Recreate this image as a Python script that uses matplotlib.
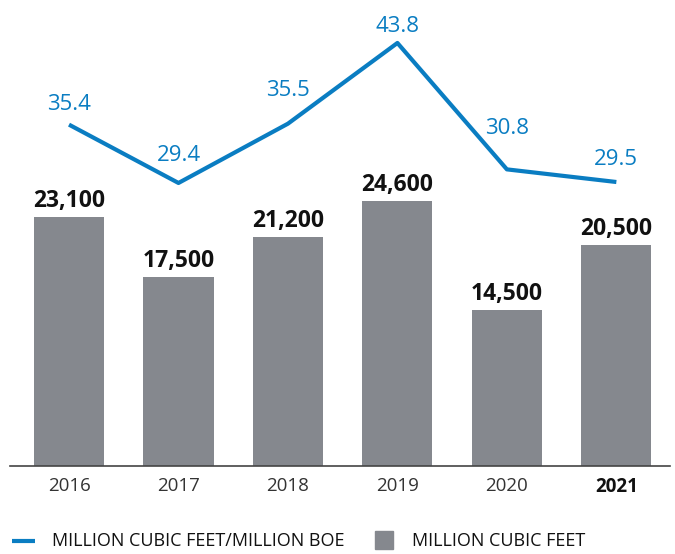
import matplotlib.pyplot as plt
from matplotlib.lines import Line2D
from matplotlib.patches import Rectangle

# ======================================================
# Data
# ======================================================
years = ["2016", "2017", "2018", "2019", "2020", "2021"]
volume_mcf = [23100, 17500, 21200, 24600, 14500, 20500]
volume_labels = ["23,100", "17,500", "21,200", "24,600", "14,500", "20,500"]
ratio = [35.4, 29.4, 35.5, 43.8, 30.8, 29.5]

BAR_COLOR = "#85888e"
LINE_COLOR = "#0a7dc2"

plt.rcParams["font.family"] = ["Open Sans", "DejaVu Sans"]

# ======================================================
# Figure
# ======================================================
fig = plt.figure(figsize=(6.75, 5.54), dpi=100)
ax = fig.add_axes([10 / 675, 88 / 554, 660 / 675, 466 / 554])
x = list(range(len(years)))

ax.bar(x, volume_mcf, width=0.64, color=BAR_COLOR, zorder=2)
ax.set_xlim(-0.539, 5.49)
ax.set_ylim(0, 43230)

for i, (v, lab) in enumerate(zip(volume_mcf, volume_labels)):
    ax.annotate(lab, (i, v), xytext=(0, 3), textcoords="offset points",
                ha="center", va="bottom", fontsize=16.5, fontweight="bold",
                color="#111111")

ax.set_xticks(x)
ax.set_xticklabels(years, fontsize=13.5, color="#333333")
ax.get_xticklabels()[-1].set_fontweight("bold")
ax.get_xticklabels()[-1].set_color("#111111")
ax.tick_params(axis="x", length=0, pad=8)
ax.set_yticks([])
for s in ["top", "left", "right"]:
    ax.spines[s].set_visible(False)
ax.spines["bottom"].set_color("#444444")
ax.spines["bottom"].set_linewidth(1.2)

# line on its own scale
ax2 = ax.twinx()
ax2.plot(x, ratio, color=LINE_COLOR, lw=3, solid_capstyle="butt", zorder=3)
ax2.set_ylim(0.29, 48.22)
ax2.set_yticks([])
for s in ax2.spines.values():
    s.set_visible(False)

label_dy = [7, 12, 16, 4, 22, 9]
for i, (v, dy) in enumerate(zip(ratio, label_dy)):
    ax2.annotate(f"{v:.1f}", (i, v), xytext=(0, dy), textcoords="offset points",
                 ha="center", va="bottom", fontsize=16, color=LINE_COLOR)

# legend, drawn by hand
fig.add_artist(Line2D([12 / 675, 35 / 675], [13 / 554, 13 / 554],
                      color=LINE_COLOR, lw=3, solid_capstyle="butt"))
fig.text(52 / 675, 13 / 554, "MILLION CUBIC FEET/MILLION BOE", fontsize=13,
         va="center", ha="left", color="#111111")
fig.add_artist(Rectangle((375 / 675, 5 / 554), 18 / 675, 18 / 554,
                         color=BAR_COLOR))
fig.text(412 / 675, 13 / 554, "MILLION CUBIC FEET", fontsize=13,
         va="center", ha="left", color="#111111")

plt.savefig("out.png", dpi=100)
plt.close()
